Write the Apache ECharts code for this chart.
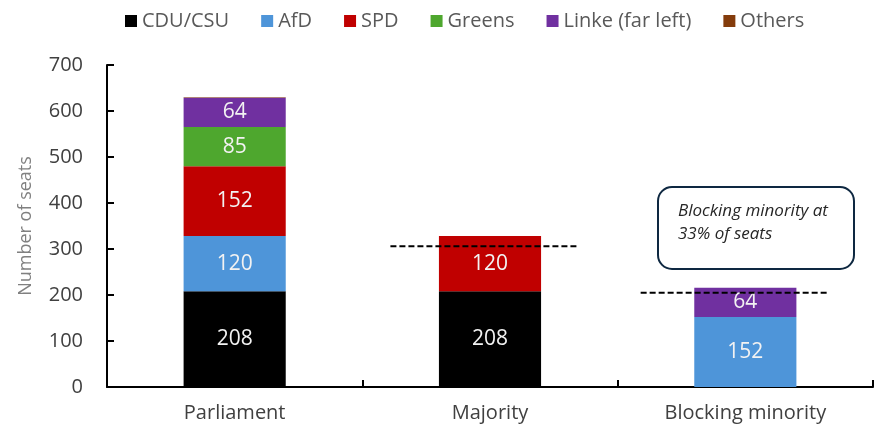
<!DOCTYPE html>
<html>
<head>
<meta charset="utf-8">
<script src="https://cdn.jsdelivr.net/npm/echarts@6.0.0/dist/echarts.min.js"></script>
<style>
  html, body { margin: 0; padding: 0; background: #fff; }
  #seat-chart { width: 882px; height: 429px; }
</style>
</head>
<body>
<div id="seat-chart"></div>
<script>
// seats per party, one value per category (null = not in that bar)
const categories = ['Parliament', 'Majority', 'Blocking minority']
const partyNames = ['CDU/CSU', 'AfD', 'SPD', 'Greens', 'Linke (far left)', 'Others']
const partyColors = ['#000000', '#4e95d9', '#c00000', '#4ea72e', '#7030a0', '#843c0c']
const cduSeats = [208, 208, null]
const afdSeats = [120, null, 152]
const spdSeats = [152, 120, null]
const greensSeats = [85, null, null]
const linkeSeats = [64, null, 64]
const otherSeats = [1, null, null]
const yTicks = [0, 700, 100]

// dashed threshold lines: seats level and span in category units
const majoritySeats = 306
const majoritySpan = [1.11, 1.84]
const blockingSeats = 205
const blockingSpan = [2.09, 2.82]

const fontName = '"Open Sans", "Noto Sans", sans-serif'
const seriesData = [cduSeats, afdSeats, spdSeats, greensSeats, linkeSeats, otherSeats]

const chart = echarts.init(document.getElementById('seat-chart'))

const barSeries = partyNames.map((name, i) => ({
    name: name,
    type: 'bar',
    stack: 'seats',
    barWidth: '40%',
    z: 2,
    itemStyle: { color: partyColors[i] },
    label: {
        show: name !== 'Others',
        position: 'inside',
        color: '#f2f2f2',
        fontFamily: fontName,
        fontSize: 21
    },
    data: seriesData[i]
}))

const dashLine = (seats, span) => ({
    type: 'line',
    xAxisIndex: 1,
    symbol: 'none',
    silent: true,
    z: 10,
    lineStyle: { color: '#000', width: 2, type: [6, 3] },
    data: [[span[0], seats], [span[1], seats]]
})

chart.setOption({
    animation: false,
    textStyle: { fontFamily: fontName },
    legend: {
        top: 6,
        left: 120,
        itemWidth: 12,
        itemHeight: 12,
        itemGap: 32,
        icon: 'rect',
        textStyle: { fontSize: 20, color: '#595959', fontFamily: fontName },
        data: partyNames
    },
    grid: { left: 107, right: 9, top: 65, bottom: 42 },
    xAxis: [
        {
            type: 'category',
            data: categories,
            axisLine: { lineStyle: { color: '#000', width: 2 } },
            axisTick: { show: true, inside: true, length: 7, lineStyle: { color: '#000', width: 2 } },
            axisLabel: { fontSize: 20, color: '#404040', margin: 16, fontFamily: fontName }
        },
        { type: 'value', min: 0, max: 3, show: false }
    ],
    yAxis: {
        type: 'value',
        min: yTicks[0],
        max: yTicks[1],
        interval: yTicks[2],
        name: 'Number of seats',
        nameLocation: 'middle',
        nameGap: 72,
        nameTextStyle: { fontSize: 18, color: '#808080', fontFamily: fontName },
        splitLine: { show: false },
        axisLine: { show: true, lineStyle: { color: '#000', width: 2 } },
        axisTick: { show: true, inside: true, length: 7, lineStyle: { color: '#000', width: 2 } },
        axisLabel: { fontSize: 20, color: '#404040', margin: 24, fontFamily: fontName }
    },
    graphic: [
        {
            type: 'rect',
            left: 657,
            top: 186,
            shape: { width: 196, height: 82, r: 14 },
            style: { fill: '#fff', stroke: '#0e2841', lineWidth: 2 }
        },
        {
            type: 'text',
            left: 678,
            top: 200,
            style: {
                text: 'Blocking minority at\n33% of seats',
                font: 'italic 17px ' + fontName,
                lineHeight: 23,
                fill: '#262626'
            }
        }
    ],
    series: barSeries.concat([
        dashLine(majoritySeats, majoritySpan),
        dashLine(blockingSeats, blockingSpan)
    ])
})
</script>
</body>
</html>
